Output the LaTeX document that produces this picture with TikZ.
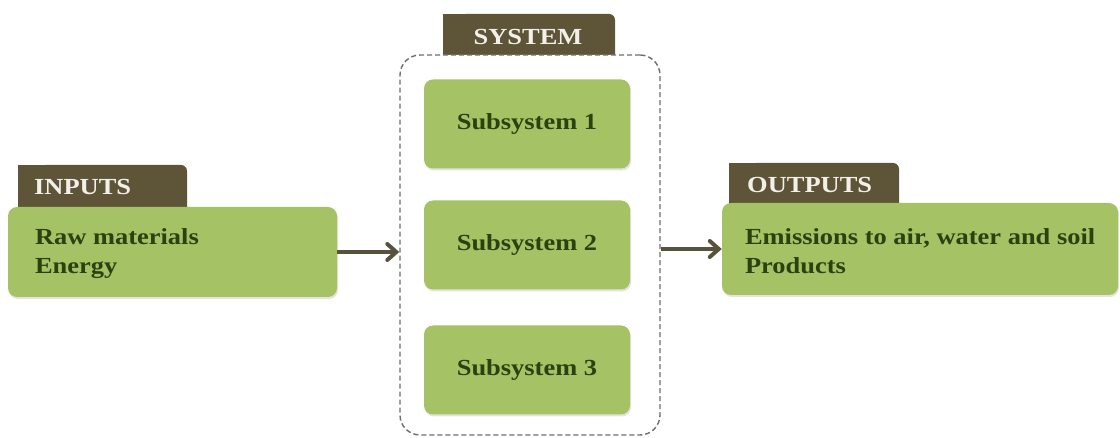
\documentclass[tikz,border=0pt]{standalone}
\usepackage{fontspec}
\setmainfont{Liberation Serif}[FakeStretch=1.15]
\usetikzlibrary{arrows.meta,shadows}
\definecolor{leaf}{RGB}{165,194,100}
\definecolor{bark}{RGB}{94,85,56}
\definecolor{ink}{RGB}{42,66,16}
\definecolor{tabtext}{RGB}{242,240,232}
\definecolor{rim}{RGB}{110,110,110}
\definecolor{shaft}{RGB}{88,82,60}
\begin{document}
\begin{tikzpicture}[x=1pt,y=-1pt,
  greenbox/.style={fill=leaf, draw=none, rounded corners=9pt, inner sep=0pt,
    drop shadow={opacity=0.22, shadow xshift=1pt, shadow yshift=-2pt}},
  subbox/.style={greenbox, minimum width=206pt, minimum height=89pt,
    font=\fontsize{23}{28}\selectfont\bfseries, text=ink},
  boxtext/.style={font=\fontsize{23}{29}\selectfont\bfseries, text=ink,
    align=left, inner sep=0pt},
  tabfill/.style={fill=bark, rounded corners=6pt},
  tablabel/.style={font=\fontsize{23}{24}\selectfont\bfseries, text=tabtext,
    inner sep=0pt},
  flow/.style={draw=shaft, line width=4pt,
    -{Straight Barb[length=9pt, width=16pt, line cap=round]}}]
\useasboundingbox (0,0) rectangle (1120,438);

% system frame with its tab (square top-left, rounded top-right)
\fill[bark] (443,14) rectangle (500,70);
\fill[tabfill] (460,14) rectangle (615,70);
\node[tablabel] (systemlabel) at (528,37) {SYSTEM};
\node[draw=rim, fill=white, line width=1.4pt, dash pattern=on 5pt off 3pt,
  rounded corners=20pt, minimum width=260pt, minimum height=380pt,
  inner sep=0pt] (sys) at (530,245) {};

% subsystems
\node[subbox] (sub1) at (527,124) {Subsystem 1};
\node[subbox] (sub2) at (527,245) {Subsystem 2};
\node[subbox] (sub3) at (527,370) {Subsystem 3};

% inputs
\fill[bark] (18,165) rectangle (80,215);
\fill[tabfill] (40,165) rectangle (187,215);
\node[tablabel, anchor=west] (inputslabel) at (34,187) {INPUTS};
\node[greenbox, minimum width=329pt, minimum height=90pt] (inbox) at (172.5,252) {};
\node[boxtext, anchor=west] (intext) at ([xshift=27pt,yshift=-2pt]inbox.west)
  {Raw materials\\Energy};

% outputs
\fill[bark] (729,163) rectangle (790,212);
\fill[tabfill] (750,163) rectangle (899,212);
\node[tablabel, anchor=west] (outputslabel) at (747,185) {OUTPUTS};
\node[greenbox, minimum width=396pt, minimum height=92pt] (outbox) at (920,249) {};
\node[boxtext, anchor=west] (outtext) at ([xshift=23pt,yshift=-2pt]outbox.west)
  {Emissions to air, water and soil\\Products};

% flow arrows
\draw[flow] (inbox.east) -- (inbox.east -| sys.west);
\draw[flow] (outbox.west -| sys.east) -- (outbox.west);
\end{tikzpicture}
\end{document}
